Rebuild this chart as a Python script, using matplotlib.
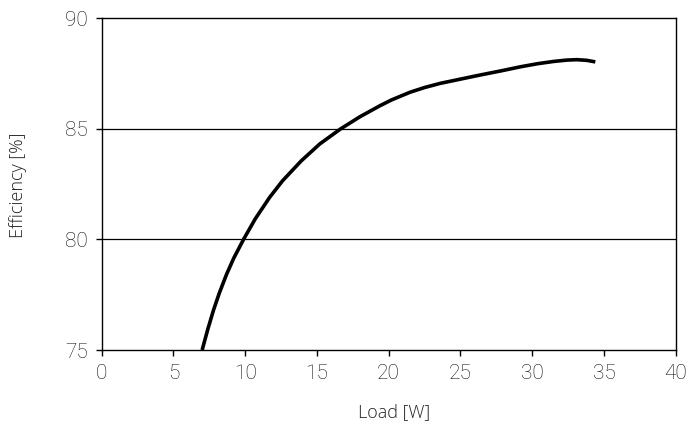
import matplotlib
matplotlib.use("Agg")
import matplotlib.pyplot as plt

# efficiency curve
load_w = [7.0, 7.4, 7.8, 8.2, 8.7, 9.2, 9.9, 10.7, 11.7, 12.6, 13.9, 15.2,
          16.65, 18.0, 19.4, 20.2, 21.5, 22.5, 23.6, 25.0, 26.4, 27.8, 29.2,
          30.4, 31.5, 32.4, 33.1, 33.8, 34.4]
efficiency = [75.0, 75.95, 76.82, 77.58, 78.42, 79.15, 80.02, 80.93, 81.9, 82.65,
              83.55, 84.32, 85.0, 85.55, 86.05, 86.31, 86.66, 86.87, 87.06, 87.25,
              87.44, 87.62, 87.81, 87.95, 88.05, 88.11, 88.13, 88.1, 88.03]

x_ticks = [0, 5, 10, 15, 20, 25, 30, 35, 40]
y_ticks = [75, 80, 85, 90]

fig = plt.figure(figsize=(6.88, 4.29), dpi=100)
ax = fig.add_axes([0.1478, 0.1841, 0.8343, 0.7732])

ax.plot(load_w, efficiency, color="black", linewidth=2.6,
        solid_capstyle="butt", solid_joinstyle="round")

for y in [80, 85]:
    ax.axhline(y, color="black", linewidth=0.9, zorder=0)

ax.set_xlim(0, 40)
ax.set_ylim(75, 90)
ax.set_xticks(x_ticks)
ax.set_yticks(y_ticks)

for s in ax.spines.values():
    s.set_linewidth(1.0)
    s.set_color("black")

ax.tick_params(direction="out", length=4, width=1, labelsize=15, pad=6)
for lbl in ax.get_xticklabels() + ax.get_yticklabels():
    lbl.set_family("Roboto")
    lbl.set_fontweight("light")
    lbl.set_color("#111111")

fig.text(394 / 688, 1 - 412 / 429, "Load [W]", ha="center", va="center",
         fontsize=13, family="Open Sans", fontweight="light", color="#222222")
fig.text(18 / 688, 1 - 185 / 429, "Efficiency [%]", ha="center", va="center",
         rotation=90, fontsize=13, family="Open Sans", fontweight="light",
         color="#222222")

fig.savefig("out.png", dpi=100)
